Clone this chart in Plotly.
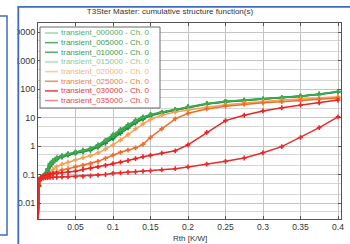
import plotly.graph_objects as go

# ---------------- data ----------------
rth = [0.0, 0.001, 0.002, 0.004, 0.007, 0.010, 0.013, 0.016, 0.020, 0.025, 0.032,
       0.040, 0.050, 0.060, 0.070, 0.080, 0.090, 0.100, 0.110, 0.120, 0.130, 0.140,
       0.150, 0.165, 0.183, 0.200, 0.225, 0.250, 0.275, 0.300, 0.325, 0.350, 0.375, 0.400]

cth_000000 = [0.002, 0.045, 0.068, 0.078, 0.09, 0.11, 0.16, 0.24, 0.31, 0.39, 0.46, 0.54, 0.62,
              0.71, 0.82, 1.1, 1.6, 2.5, 3.8, 5.6, 8.0, 10.5, 12.8, 15.5, 19, 24, 31, 37, 41,
              45, 50, 57, 67, 82]
cth_005000 = [0.002, 0.04, 0.065, 0.075, 0.085, 0.10, 0.14, 0.21, 0.28, 0.36, 0.43, 0.50, 0.58,
              0.66, 0.75, 0.98, 1.4, 2.1, 3.2, 4.8, 7.0, 9.5, 12, 15, 18.5, 23, 30, 36, 40,
              44, 48, 55, 65, 80]
cth_010000 = [0.002, 0.04, 0.062, 0.073, 0.082, 0.095, 0.13, 0.19, 0.26, 0.34, 0.41, 0.48, 0.56,
              0.63, 0.71, 0.90, 1.25, 1.8, 2.8, 4.3, 6.4, 8.8, 11.4, 14.5, 18, 22.5, 29.5, 35,
              39.5, 43.5, 47.5, 54, 64, 78]
cth_015000 = [0.002, 0.042, 0.066, 0.076, 0.087, 0.105, 0.15, 0.22, 0.29, 0.37, 0.44, 0.52, 0.60,
              0.68, 0.78, 1.02, 1.5, 2.3, 3.5, 5.2, 7.5, 10, 12.4, 15.2, 18.8, 23.5, 30.5, 36.5,
              40.5, 44.5, 49, 56, 66, 81]
cth_020000 = [0.002, 0.04, 0.062, 0.07, 0.078, 0.085, 0.095, 0.11, 0.15, 0.19, 0.23, 0.27, 0.33,
              0.39, 0.46, 0.57, 0.78, 1.08, 1.6, 2.5, 4.0, 6.0, 8.5, 12, 15.5, 18.5, 23, 28, 32,
              37, 41, 45, 49, 54]
cth_025000 = [0.002, 0.04, 0.062, 0.07, 0.076, 0.08, 0.085, 0.095, 0.11, 0.125, 0.145, 0.16, 0.185,
              0.21, 0.24, 0.29, 0.37, 0.48, 0.6, 0.72, 0.86, 1.15, 2.0, 4.0, 9.0, 14, 20, 25, 29,
              33, 36, 39, 43, 48]
cth_030000 = [0.002, 0.04, 0.065, 0.08, 0.09, 0.097, 0.10, 0.105, 0.108, 0.11, 0.115, 0.12, 0.13,
              0.15, 0.165, 0.185, 0.21, 0.24, 0.27, 0.31, 0.36, 0.42, 0.47, 0.56, 0.68, 1.1, 3.0,
              7.8, 12, 17, 22, 27, 33, 41]
cth_035000 = [0.002, 0.04, 0.065, 0.072, 0.075, 0.077, 0.078, 0.079, 0.08, 0.08, 0.081, 0.082, 0.084,
              0.086, 0.09, 0.095, 0.10, 0.11, 0.115, 0.12, 0.125, 0.13, 0.135, 0.145, 0.16, 0.185,
              0.23, 0.29, 0.38, 0.58, 0.95, 2.0, 4.4, 10.5]

series_names = ["transient_000000 - Ch. 0", "transient_005000 - Ch. 0", "transient_010000 - Ch. 0",
                "transient_015000 - Ch. 0", "transient_020000 - Ch. 0", "transient_025000 - Ch. 0",
                "transient_030000 - Ch. 0", "transient_035000 - Ch. 0"]
series_values = [cth_000000, cth_005000, cth_010000, cth_015000,
                 cth_020000, cth_025000, cth_030000, cth_035000]

x_tickvals = [0.05, 0.1, 0.15, 0.2, 0.25, 0.3, 0.35, 0.4]
x_ticktext = ["0.05", "0.1", "0.15", "0.2", "0.25", "0.3", "0.35", "0.4"]
y_tickvals = [0.01, 0.1, 1, 10, 100, 1000, 10000]
y_ticktext = ["0.01", "0.1", "1", "10", "100", "1000", "10000"]
y_minorvals = [m * 10.0 ** e for e in range(-3, 5) for m in (2, 5)]

# ---------------- styles ----------------
line_colors = ["#36a34a", "#23993a", "#1c8d35", "#3faa52",
               "#f6a052", "#ee6c2a", "#e82424", "#ea2a2a"]
legend_line_colors = ["#a6d9b1", "#5aae6a", "#5aae6a", "#b3e0c4",
                      "#f8cda3", "#f2965f", "#ea4a4a", "#f08a8a"]
legend_text_colors = ["#58ad68", "#3f9a50", "#3f9a50", "#8ccaa2",
                      "#f2b47c", "#ee8048", "#e53a3a", "#e84848"]

W, H = 350, 244
ML, MR, MT, MB = 38, 9, 23, 25
PW, PH = W - ML - MR, H - MT - MB


def px(x):
    return (x - ML) / PW


def py(y):
    return (H - MB - y) / PH


FONT = "Liberation Sans, Arial, sans-serif"

fig = go.Figure()
for name, vals, col in zip(series_names, series_values, line_colors):
    fig.add_trace(go.Scatter(
        x=rth, y=vals, mode="lines+markers", name=name, showlegend=False,
        line=dict(color=col, width=1.5),
        marker=dict(symbol="cross", size=4, color=col, line=dict(width=0)),
    ))

shapes = []
annotations = []

# cover area left of main window border (clips long tick labels)
shapes.append(dict(type="rect", xref="paper", yref="paper", layer="above",
                   x0=px(-60), x1=px(17.5), y0=py(300), y1=py(-20),
                   fillcolor="white", line=dict(width=0)))
# left side panel
shapes.append(dict(type="rect", xref="paper", yref="paper", layer="above",
                   x0=px(-10), x1=px(7), y0=py(235), y1=py(16),
                   fillcolor="white", line=dict(color="#3f6cc2", width=1.5)))
# main window border
shapes.append(dict(type="rect", xref="paper", yref="paper", layer="above",
                   x0=px(18.3), x1=px(380), y0=py(300), y1=py(6.8),
                   fillcolor="rgba(0,0,0,0)", line=dict(color="#3f6cc2", width=1.8)))

# manual legend box
leg_x0, leg_x1, leg_y0, leg_y1 = 40, 160, 27, 108
shapes.append(dict(type="rect", xref="paper", yref="paper", layer="above",
                   x0=px(leg_x0), x1=px(leg_x1), y0=py(leg_y1), y1=py(leg_y0),
                   fillcolor="rgba(255,255,255,0.93)", line=dict(color="#6a6a6a", width=1)))
for i, (name, lc, tc) in enumerate(zip(series_names, legend_line_colors, legend_text_colors)):
    yy = 33 + i * 9.65
    shapes.append(dict(type="line", xref="paper", yref="paper", layer="above",
                       x0=px(45), x1=px(58), y0=py(yy), y1=py(yy),
                       line=dict(color=lc, width=1.6)))
    annotations.append(dict(xref="paper", yref="paper", x=px(60), y=py(yy),
                            xanchor="left", yanchor="middle", showarrow=False,
                            text=name, font=dict(family=FONT, size=8, color=tc),
                            borderpad=0))

# x axis title
annotations.append(dict(xref="paper", yref="paper", x=px(189.5), y=py(238.3),
                        xanchor="center", yanchor="middle", showarrow=False,
                        text="Rth [K/W]", font=dict(family=FONT, size=8, color="#333333"),
                        borderpad=0))

fig.update_layout(
    width=W, height=H,
    margin=dict(l=ML, r=MR, t=MT, b=MB, pad=0, autoexpand=False),
    paper_bgcolor="white", plot_bgcolor="white",
    showlegend=False,
    hovermode=False,
    title=dict(text="T3Ster Master: cumulative structure function(s)",
               x=170 / W, xanchor="center", y=1 - 11 / H, yanchor="middle",
               font=dict(family=FONT, size=8, color="#333333")),
    font=dict(family=FONT, size=8, color="#333333"),
    shapes=shapes,
    annotations=annotations,
)

fig.update_xaxes(
    range=[0, 0.404], tickvals=x_tickvals, ticktext=x_ticktext, automargin=False,
    ticklabeloverflow="allow",
    showgrid=True, gridcolor="#c4c4c4", gridwidth=1, zeroline=False,
    showline=True, linecolor="#555555", linewidth=1, mirror="ticks",
    ticks="inside", ticklen=3, tickcolor="#555555",
    tickfont=dict(family=FONT, size=8.5, color="#333333"),
)
fig.update_yaxes(
    type="log", range=[-2.561, 4.316], tickvals=y_tickvals, ticktext=y_ticktext,
    automargin=False, ticklabeloverflow="allow",
    showgrid=True, gridcolor="#c4c4c4", gridwidth=1, zeroline=False,
    showline=True, linecolor="#555555", linewidth=1, mirror="ticks",
    ticks="inside", ticklen=3, tickcolor="#555555",
    tickfont=dict(family=FONT, size=9, color="#333333"),
    minor=dict(tickvals=y_minorvals, showgrid=True, gridcolor="#d6d6d6", ticks=""),
)

fig.write_html(
    "out.html",
    config={"displayModeBar": False, "staticPlot": True},
    post_script="document.body.style.margin='0';document.body.style.overflow='hidden';",
)
